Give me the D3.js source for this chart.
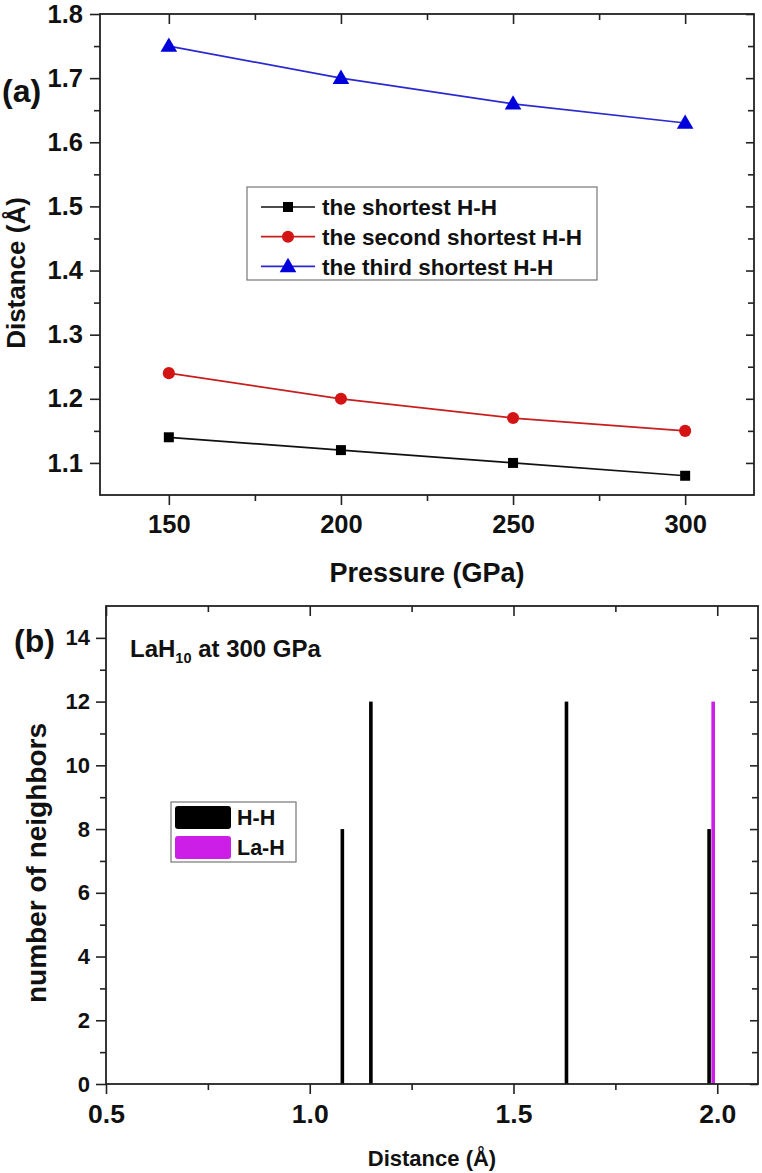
<!DOCTYPE html>
<html><head><meta charset="utf-8">
<script src="https://cdn.jsdelivr.net/npm/d3@7"></script>
<style>
html,body{margin:0;padding:0;background:#fff;}
svg text{font-family:"Liberation Sans",Arial,sans-serif;font-weight:bold;fill:#111;}
</style></head>
<body>
<svg id="chart" width="762" height="1173"></svg>
<script>
// ---- data ----
const pressures = [150, 200, 250, 300];
const shortestHH = [1.14, 1.12, 1.10, 1.08];
const secondHH = [1.24, 1.20, 1.17, 1.15];
const thirdHH = [1.75, 1.70, 1.66, 1.63];
const seriesNames = ["the shortest H-H", "the second shortest H-H", "the third shortest H-H"];

const hhDistances = [1.08, 1.15, 1.63, 1.98];
const hhCounts = [8, 12, 12, 8];
const lahDistances = [1.99];
const lahCounts = [12];
const barNames = ["H-H", "La-H"];

const topXTicks = [150, 200, 250, 300];
const topXMinor = [175, 225, 275];
const topYTicks = [1.1, 1.2, 1.3, 1.4, 1.5, 1.6, 1.7, 1.8];
const topYMinor = [1.15, 1.25, 1.35, 1.45, 1.55, 1.65, 1.75];
const botXTicks = [0.5, 1.0, 1.5, 2.0];
const botXMinor = [0.75, 1.25, 1.75];
const botYTicks = [0, 2, 4, 6, 8, 10, 12, 14];
const botYMinor = [1, 3, 5, 7, 9, 11, 13];

const svg = d3.select("#chart");
const AX = "#222";

function frameAxes(g, x, y, o) {
  const [x0, x1] = x.range(); const [y0, y1] = y.range();
  const bx = g.append("g").attr("transform", `translate(0,${y0})`)
    .call(d3.axisBottom(x).tickValues(o.xt).tickFormat(o.xf).tickSize(10).tickPadding(10));
  bx.selectAll("text").style("font-size", o.xfs + "px");
  g.append("g").attr("transform", `translate(0,${y0})`)
    .call(d3.axisBottom(x).tickValues(o.xm).tickFormat("").tickSize(6));
  const ly = g.append("g").attr("transform", `translate(${x0},0)`)
    .call(d3.axisLeft(y).tickValues(o.yt).tickFormat(o.yf).tickSize(10).tickPadding(o.ypad));
  ly.selectAll("text").style("font-size", o.yfs + "px");
  g.append("g").attr("transform", `translate(${x0},0)`)
    .call(d3.axisLeft(y).tickValues(o.ym).tickFormat("").tickSize(6));
  g.append("g").attr("transform", `translate(0,${y1})`)
    .call(d3.axisTop(x).tickValues(o.xt).tickFormat("").tickSize(-10));
  g.append("g").attr("transform", `translate(0,${y1})`)
    .call(d3.axisTop(x).tickValues(o.xm).tickFormat("").tickSize(-6));
  g.append("g").attr("transform", `translate(${x1},0)`)
    .call(d3.axisRight(y).tickValues(o.yt).tickFormat("").tickSize(-8));
  g.append("g").attr("transform", `translate(${x1},0)`)
    .call(d3.axisRight(y).tickValues(o.ym).tickFormat("").tickSize(-6));
  g.selectAll(".domain").remove();
  g.selectAll(".tick line").attr("stroke", AX).attr("stroke-width", 1.6);
  g.append("rect").attr("x", x0).attr("y", y1).attr("width", x1 - x0).attr("height", y0 - y1)
    .attr("fill", "none").attr("stroke", AX).attr("stroke-width", 1.8);
}

// ================= panel (a) =================
const xa = d3.scaleLinear().domain([130, 320]).range([100, 754]);
const ya = d3.scaleLinear().domain([1.05, 1.8]).range([495, 14]);
const ga = svg.append("g");
frameAxes(ga, xa, ya, {xt: topXTicks, xm: topXMinor, xf: d3.format("d"), xfs: 25.5,
  yt: topYTicks, ym: topYMinor, yf: d3.format(".1f"), yfs: 25.5, ypad: 7});

const lineColors = ["#111111", "#c81e1e", "#2a2ad0"];
const markColors = ["#000000", "#d41414", "#0000dd"];
const allSeries = [shortestHH, secondHH, thirdHH];
const sym = [d3.symbolSquare, d3.symbolCircle, d3.symbolTriangle];
const symSize = [100, 115, 120];
allSeries.forEach((s, i) => {
  const pts = pressures.map((p, j) => [p, s[j]]);
  ga.append("path").datum(pts)
    .attr("fill", "none").attr("stroke", lineColors[i]).attr("stroke-width", 1.7)
    .attr("d", d3.line().x(d => xa(d[0])).y(d => ya(d[1])));
  ga.selectAll(null).data(pts).enter().append("path")
    .attr("transform", d => `translate(${xa(d[0])},${ya(d[1]) + (i === 2 ? 1 : 0)})`)
    .attr("d", d3.symbol().type(sym[i]).size(symSize[i]))
    .attr("fill", markColors[i]);
});

// legend (a)
const lga = ga.append("g");
lga.append("rect").attr("x", 247).attr("y", 187).attr("width", 350).attr("height", 93)
  .attr("fill", "#fff").attr("stroke", "#777").attr("stroke-width", 1.2);
seriesNames.forEach((n, i) => {
  const cy = 207 + i * 29.7;
  lga.append("line").attr("x1", 261).attr("x2", 315).attr("y1", cy).attr("y2", cy)
    .attr("stroke", lineColors[i]).attr("stroke-width", 1.7);
  lga.append("path").attr("transform", `translate(288,${cy + (i === 2 ? 1 : 0)})`)
    .attr("d", d3.symbol().type(sym[i]).size(symSize[i])).attr("fill", markColors[i]);
  lga.append("text").attr("x", 322).attr("y", cy).attr("dy", "0.36em")
    .style("font-size", "22.5px").text(n);
});

ga.append("text").attr("x", 2).attr("y", 102).style("font-size", "32px").text("(a)");
ga.append("text").attr("transform", "translate(25,273) rotate(-90)")
  .attr("text-anchor", "middle").style("font-size", "26px").text("Distance (Å)");
ga.append("text").attr("x", 427).attr("y", 582).attr("text-anchor", "middle")
  .style("font-size", "27px").text("Pressure (GPa)");

// ================= panel (b) =================
const xb = d3.scaleLinear().domain([0.5, 2.1]).range([106, 758]);
const yb = d3.scaleLinear().domain([0, 15]).range([1084, 606]);
const gb = svg.append("g");

const barW = 3.6;
gb.selectAll(null).data(hhDistances.map((d, i) => [d, hhCounts[i]])).enter().append("rect")
  .attr("x", d => xb(d[0]) - barW / 2).attr("width", barW)
  .attr("y", d => yb(d[1])).attr("height", d => yb(0) - yb(d[1]))
  .attr("fill", "#000");
const magenta = "#cc1ee6";
gb.selectAll(null).data(lahDistances.map((d, i) => [d, lahCounts[i]])).enter().append("rect")
  .attr("x", d => xb(d[0]) - barW / 2).attr("width", barW)
  .attr("y", d => yb(d[1])).attr("height", d => yb(0) - yb(d[1]))
  .attr("fill", magenta);

frameAxes(gb, xb, yb, {xt: botXTicks, xm: botXMinor, xf: d3.format(".1f"), xfs: 26.5,
  yt: botYTicks, ym: botYMinor, yf: d3.format("d"), yfs: 22, ypad: 6});

// legend (b)
const lgb = gb.append("g");
lgb.append("rect").attr("x", 171).attr("y", 802).attr("width", 125).attr("height", 60)
  .attr("fill", "#fff").attr("stroke", "#777").attr("stroke-width", 1.2);
[["#000", 806], [magenta, 836]].forEach((c, i) => {
  lgb.append("rect").attr("x", 175).attr("y", c[1]).attr("width", 56).attr("height", 23)
    .attr("rx", 3).attr("fill", c[0]);
  lgb.append("text").attr("x", 237).attr("y", c[1] + 11.5).attr("dy", "0.36em")
    .style("font-size", "21.5px").text(barNames[i]);
});

gb.append("text").attr("x", 14).attr("y", 652).style("font-size", "32px").text("(b)");
const t = gb.append("text").attr("x", 130).attr("y", 657).style("font-size", "24px");
t.append("tspan").text("LaH");
t.append("tspan").attr("dy", 6).style("font-size", "14.5px").text("10");
t.append("tspan").attr("dy", -6).text(" at 300 GPa");

gb.append("text").attr("transform", "translate(46,863) rotate(-90)")
  .attr("text-anchor", "middle").style("font-size", "28px").text("number of neighbors");
gb.append("text").attr("x", 432).attr("y", 1166).attr("text-anchor", "middle")
  .style("font-size", "22px").text("Distance (Å)");
</script>
</body></html>
